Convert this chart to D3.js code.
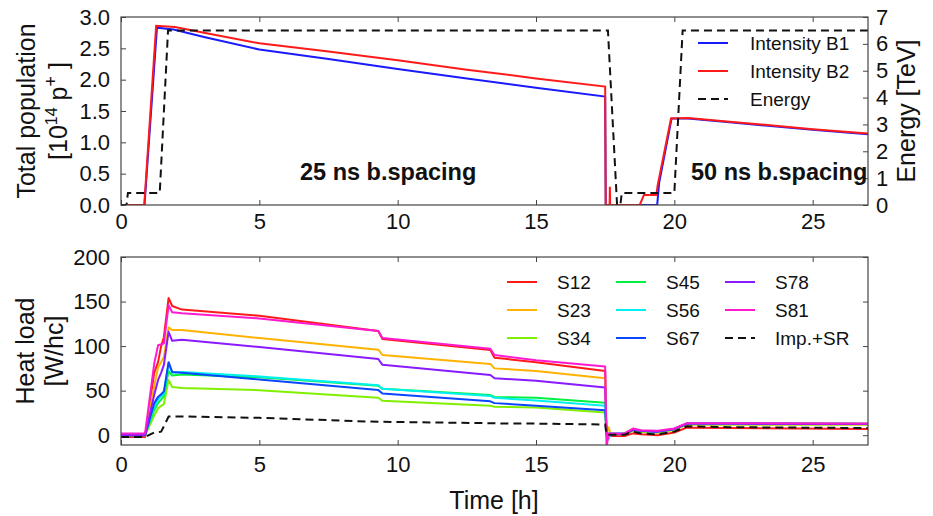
<!DOCTYPE html>
<html><head><meta charset="utf-8">
<script src="https://cdn.jsdelivr.net/npm/d3@7/dist/d3.min.js"></script>
<style>
body{margin:0;background:#fff;}
text{font-family:"Liberation Sans",Arial,sans-serif;fill:#111;}
</style></head>
<body>
<svg id="c" width="933" height="516"></svg>
<script>
// ---------- DATA ----------
// Top panel: beam intensity [1e14 p] and energy [TeV] vs time [h]
const b1Time = [0, 0.85, 1.3, 1.9, 3, 5, 7.5, 10, 12.5, 15, 17.5, 17.52, 19.38, 19.45, 19.9, 20.5, 22, 25, 27];
const b1Vals = [0, 0, 2.83, 2.80, 2.68, 2.48, 2.33, 2.17, 2.02, 1.87, 1.73, 0, 0, 0.35, 1.38, 1.38, 1.32, 1.20, 1.13];
const b2Time = [0, 0.84, 1.27, 1.95, 3, 5, 7.5, 10, 12.5, 15, 17.5, 17.52, 17.66, 17.67, 17.68, 18.75, 18.9, 19.35, 19.4, 19.88, 20.5, 22, 25, 27];
const b2Vals = [0, 0, 2.86, 2.84, 2.75, 2.58, 2.45, 2.31, 2.16, 2.02, 1.89, 0, 0, 0.29, 0, 0, 0.16, 0.16, 0.32, 1.38, 1.39, 1.33, 1.21, 1.14];
const energyTime = [0, 0.2, 0.25, 1.4, 1.7, 17.6, 17.93, 18.05, 18.1, 20.0, 20.3, 27];
const energyVals = [0, 0, 0.45, 0.45, 6.5, 6.5, 0, 0, 0.45, 0.45, 6.5, 6.5];

// Bottom panel: heat load per half-cell [W/hc] per sector
const hlTime = [0, 0.87, 1.2, 1.34, 1.45, 1.55, 1.72, 1.85, 2.2, 5, 9.3, 9.45, 13.35, 13.5, 15, 17.5, 17.55, 17.62, 17.7, 18.2, 18.5, 18.8, 19.4, 20.0, 20.45, 22, 27];
const S12 = [-2, -2, 70, 82, 100, 110, 154, 145, 141, 134, 117, 108, 95.5, 87, 82, 72, -1, -1, -1, -1, 2, 1, 0, 3, 8.5, 8, 7];
const S23 = [0, 0, 55, 76, 82, 88, 121, 118, 118, 109, 96, 90, 80, 75, 72, 64, 1, 9, 1, 1, 5, 4, 3, 6, 12, 12, 12];
const S34 = [0, 0, 22, 30, 33, 35, 62, 54, 53, 50.5, 42, 38.6, 33, 32, 31, 25.5, 1, 1, 1, 1, 5, 4, 3, 6, 12, 12, 12];
const S45 = [0, 0, 28, 36, 40, 44, 72, 67, 68, 65, 55.5, 52, 45, 43, 42, 36.4, 1.5, 1.5, 1.5, 1.5, 6, 5, 4, 7, 13, 13, 13];
const S56 = [1, 1, 32, 40, 44, 47, 80, 70, 71, 66, 56, 52, 44, 42, 39, 33, 2, -5, 2, 2, 6.5, 5, 4, 7, 13, 13, 12.5];
const S67 = [0, 0, 36, 43, 46, 49, 82, 71, 70, 62.5, 50.6, 46.8, 38, 36, 33, 28, 1.5, 1.5, 1.5, 1.5, 6, 5, 4, 7, 13, 13, 12.5];
const S78 = [0, 0, 45, 62, 70, 79, 116, 106, 107, 99, 85.5, 79, 67.6, 64, 61, 53.6, 1, 1, 1, 1, 6, 5, 4, 7, 13, 13, 12.5];
const S81 = [2, 2, 80, 101, 102, 103, 146, 138, 137, 131, 117, 109, 97, 90, 84, 77, -15, 2, 2, 2, 7.5, 5.5, 5, 7.5, 13.5, 13.5, 13];
const impSR = [-2, -2, 3, 3.5, 4, 10, 21, 21, 21, 19.5, 15, 15, 13.5, 13.3, 13, 12, 0.5, 0.5, 0.5, 0.5, 4, 2, 1, 4, 10, 9, 8];

const sectorNames = ["S12","S23","S34","S45","S56","S67","S78","S81"];
const sectorColors = ["#ff1a1a","#ffb300","#80f000","#00f040","#00f0f0","#0a46ff","#8a1aff","#ff1ad0"];
const sectorValues = [S12,S23,S34,S45,S56,S67,S78,S81];

const xTicks = [0,5,10,15,20,25];
const popTicks = [0,0.5,1,1.5,2,2.5,3];
const energyTicks = [0,1,2,3,4,5,6,7];
const hlTicks = [0,50,100,150,200];

// ---------- LAYOUT ----------
const svg = d3.select("#c");
const L = 121, R = 868;
const top1 = 17, bot1 = 205, top2 = 257, bot2 = 445;
const x = d3.scaleLinear().domain([0,27]).range([L,R]);
const yPop = d3.scaleLinear().domain([0,3]).range([bot1,top1]);
const yE = d3.scaleLinear().domain([0,7]).range([bot1,top1]);
const yHL = d3.scaleLinear().domain([-11,200]).range([bot2,top2]);
const FS = 22, TS = 25, LS = 19;

const defs = svg.append("defs");
defs.append("clipPath").attr("id","clip1").append("rect").attr("x",L).attr("y",top1).attr("width",R-L).attr("height",bot1-top1);
defs.append("clipPath").attr("id","clip2").append("rect").attr("x",L).attr("y",top2).attr("width",R-L).attr("height",bot2-top2);

function styleAxis(g, fs){
  g.select(".domain").remove();
  g.selectAll(".tick line").attr("stroke","#444").attr("stroke-width",1);
  g.selectAll(".tick text").style("font-family","'Liberation Sans',Arial,sans-serif").attr("font-size",fs).attr("fill","#111");
}

function panelAxes(yScale, yT, yFmt, topY, botY, labelPad){
  styleAxis(svg.append("g").attr("transform",`translate(0,${botY})`)
    .call(d3.axisBottom(x).tickValues(xTicks).tickSize(-5).tickPadding(labelPad).tickFormat(d3.format("d"))), FS);
  styleAxis(svg.append("g").attr("transform",`translate(0,${topY})`)
    .call(d3.axisTop(x).tickValues(xTicks).tickSize(-5).tickFormat("")), FS);
  styleAxis(svg.append("g").attr("transform",`translate(${L},0)`)
    .call(d3.axisLeft(yScale).tickValues(yT).tickSize(-5).tickPadding(11).tickFormat(yFmt)), FS);
}

// ---------- TOP PANEL ----------
panelAxes(yPop, popTicks, d3.format(".1f"), top1, bot1, 8);
styleAxis(svg.append("g").attr("transform",`translate(${R},0)`)
  .call(d3.axisRight(yE).tickValues(energyTicks).tickSize(-5).tickPadding(8).tickFormat(d3.format("d"))), FS);

const g1 = svg.append("g").attr("clip-path","url(#clip1)");
const popLine = (t,v)=> d3.line().x((d,i)=>x(t[i])).y(d=>yPop(d))(v);
g1.append("path").attr("d",popLine(b1Time,b1Vals)).attr("fill","none").attr("stroke","#1a1aff").attr("stroke-width",2);
g1.append("path").attr("d",popLine(b2Time,b2Vals)).attr("fill","none").attr("stroke","#ff1a1a").attr("stroke-width",2);
g1.append("path").attr("d",d3.line().x((d,i)=>x(energyTime[i])).y(d=>yE(d))(energyVals))
  .attr("fill","none").attr("stroke","#111").attr("stroke-width",2).attr("stroke-dasharray","8,5");

svg.append("rect").attr("x",L).attr("y",top1).attr("width",R-L).attr("height",bot1-top1)
  .attr("fill","none").attr("stroke","#444").attr("stroke-width",1.2);

svg.append("text").attr("x",300).attr("y",180).attr("font-size",23.5).attr("font-weight","bold").text("25 ns b.spacing");
svg.append("text").attr("x",691).attr("y",180).attr("font-size",23.5).attr("font-weight","bold").text("50 ns b.spacing");

// top legend
const leg1 = [
  {name:"Intensity B1", color:"#1a1aff", dash:null, y:43},
  {name:"Intensity B2", color:"#ff1a1a", dash:null, y:71},
  {name:"Energy", color:"#111", dash:"8,5", y:99}
];
leg1.forEach(d=>{
  svg.append("line").attr("x1",698).attr("x2",728).attr("y1",d.y).attr("y2",d.y)
    .attr("stroke",d.color).attr("stroke-width",2).attr("stroke-dasharray",d.dash);
  svg.append("text").attr("x",750).attr("y",d.y+7).attr("font-size",LS).text(d.name);
});

// axis titles top
svg.append("text").attr("transform","translate(35,111) rotate(-90)").attr("text-anchor","middle").attr("font-size",TS).text("Total population");
const t2 = svg.append("text").attr("transform","translate(67,111) rotate(-90)").attr("text-anchor","middle").attr("font-size",TS);
t2.append("tspan").text("[10");
t2.append("tspan").attr("dy",-10).attr("font-size",16).text("14");
t2.append("tspan").attr("dy",10).text(" p");
t2.append("tspan").attr("dy",-10).attr("font-size",18).text("+");
t2.append("tspan").attr("dy",10).text(" ]");
svg.append("text").attr("transform","translate(915,111) rotate(-90)").attr("text-anchor","middle").attr("font-size",TS).text("Energy [TeV]");

// ---------- BOTTOM PANEL ----------
panelAxes(yHL, hlTicks, d3.format("d"), top2, bot2, 11);
styleAxis(svg.append("g").attr("transform",`translate(${R},0)`)
  .call(d3.axisRight(yHL).tickValues(hlTicks).tickSize(-5).tickFormat("")), FS);

const g2 = svg.append("g").attr("clip-path","url(#clip2)");
const hlLine = d3.line().x((d,i)=>x(hlTime[i])).y(d=>yHL(d));
sectorValues.forEach((vals,k)=>{
  g2.append("path").attr("d",hlLine(vals)).attr("fill","none")
    .attr("stroke",sectorColors[k]).attr("stroke-width",2).attr("stroke-linejoin","round");
});
g2.append("path").attr("d",hlLine(impSR)).attr("fill","none").attr("stroke","#111")
  .attr("stroke-width",2).attr("stroke-dasharray","8,5");

svg.append("rect").attr("x",L).attr("y",top2).attr("width",R-L).attr("height",bot2-top2)
  .attr("fill","none").attr("stroke","#444").attr("stroke-width",1.2);

// bottom legend (3 columns)
const legItems = sectorNames.map((n,i)=>({name:n,color:sectorColors[i],dash:null}))
  .concat([{name:"Imp.+SR",color:"#111",dash:"8,5"}]);
const colX = [507,616,725], rowY = [282,310,338];
legItems.forEach((d,i)=>{
  const c = Math.floor(i/3), r = i%3;
  svg.append("line").attr("x1",colX[c]).attr("x2",colX[c]+30).attr("y1",rowY[r]).attr("y2",rowY[r])
    .attr("stroke",d.color).attr("stroke-width",2).attr("stroke-dasharray",d.dash);
  svg.append("text").attr("x",colX[c]+50).attr("y",rowY[r]+7).attr("font-size",LS).text(d.name);
});

svg.append("text").attr("transform","translate(34,351) rotate(-90)").attr("text-anchor","middle").attr("font-size",TS).text("Heat load");
svg.append("text").attr("transform","translate(63,351) rotate(-90)").attr("text-anchor","middle").attr("font-size",TS).text("[W/hc]");
svg.append("text").attr("x",494).attr("y",509).attr("text-anchor","middle").attr("font-size",TS).text("Time [h]");
</script>
</body></html>
